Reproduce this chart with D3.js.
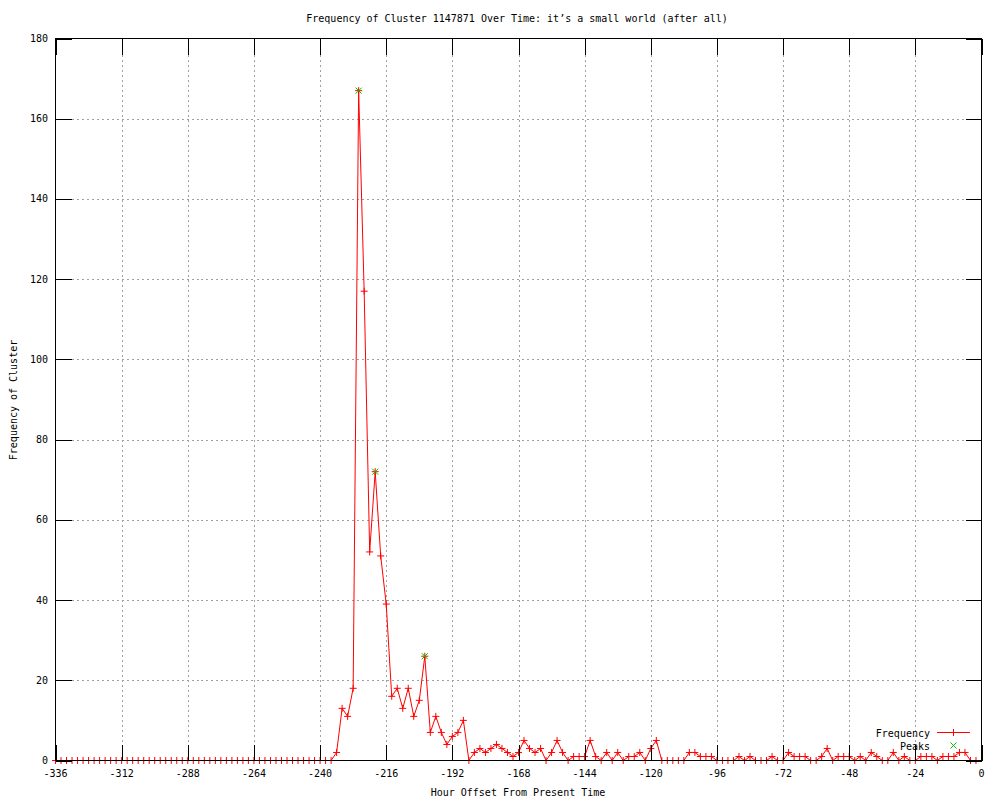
<!DOCTYPE html>
<html>
<head>
<meta charset="utf-8">
<script src="https://cdn.jsdelivr.net/npm/d3@7"></script>
<style>
  html, body { margin: 0; padding: 0; background: #fff; }
  svg { display: block; }
  text { font-family: "DejaVu Sans Mono", "Liberation Mono", monospace; font-size: 10px; fill: #000; }
</style>
</head>
<body>
<svg id="chart" width="1000" height="800"></svg>
<script>
// ---- data ----
const startHour = -336, stepHours = 2;
const frequency = [
  0,0,0,0,0,0,0,0,0,0, 0,0,0,0,0,0,0,0,0,0,
  0,0,0,0,0,0,0,0,0,0, 0,0,0,0,0,0,0,0,0,0,
  0,0,0,0,0,0,0,0,0,0, 0,
  2,13,11,18,167,117,52,72,51,39,16,18,13,18,11,15,26,7,11,7,4,6,7,10,
  0,2,3,2,3,4,3,2,1,2,5,3,2,3,0,2,5,2,0,1,1,1,5,1,0,2,0,2,0,1,1,2,0,3,5,
  0,0,0,0,0,2,2,1,1,1,0,0,0,0,1,0,1,0,0,0,1,0,0,2,1,1,1,0,0,1,3,0,1,1,1,0,1,0,2,1,0,0,2,0,1,0,0,1,1,1,0,1,1,1,2,2,0,0
];
const hours = frequency.map((_, i) => startHour + i * stepHours);
const peakHours = [-226, -220, -202];
const peakValues = [167, 72, 26];
const xTicks = [-336,-312,-288,-264,-240,-216,-192,-168,-144,-120,-96,-72,-48,-24,0];
const yTicks = [0,20,40,60,80,100,120,140,160,180];

const titleText = "Frequency of Cluster 1147871 Over Time: it\u2019s a small world (after all)";
const xLabel = "Hour Offset From Present Time";
const yLabel = "Frequency of Cluster";
const legendNames = ["Frequency", "Peaks"];

// ---- layout ----
const L = 55.5, R = 981.5, T = 38.5, B = 760.5;
const RED = "#ff0000", GREEN = "#00c000", GRID = "#a0a0a0";
const svg = d3.select("#chart");
const x = d3.scaleLinear().domain([-336, 0]).range([L, R]);
const y = d3.scaleLinear().domain([0, 180]).range([B, T]);

// grid
const g = svg.append("g").attr("shape-rendering", "crispEdges");
g.selectAll(".vg").data(xTicks.filter(d => d > -336 && d < 0)).enter().append("line")
  .attr("x1", d => Math.round(x(d)) + 0.5).attr("x2", d => Math.round(x(d)) + 0.5)
  .attr("y1", T + 16).attr("y2", B - 16)
  .attr("stroke", GRID).attr("stroke-dasharray", "2,3");
g.selectAll(".hg").data(yTicks.filter(d => d > 0 && d < 180)).enter().append("line")
  .attr("y1", d => Math.round(y(d)) + 0.5).attr("y2", d => Math.round(y(d)) + 0.5)
  .attr("x1", L + 16).attr("x2", R - 16)
  .attr("stroke", GRID).attr("stroke-dasharray", "2,3");

// data line
const line = d3.line().x((d, i) => x(hours[i])).y(d => y(d));
svg.append("path").datum(frequency).attr("d", line)
  .attr("fill", "none").attr("stroke", RED).attr("stroke-width", 1);

// plus markers
const ms = 3.5;
svg.append("g").selectAll("path").data(frequency).enter().append("path")
  .attr("d", (d, i) => {
    const px = x(hours[i]), py = y(d);
    return `M${px - ms},${py}H${px + ms}M${px},${py - ms}V${py + ms}`;
  })
  .attr("stroke", RED).attr("stroke-width", 1).attr("fill", "none");

// peak x markers
const xs = 3;
svg.append("g").selectAll("path").data(peakValues).enter().append("path")
  .attr("d", (d, i) => {
    const px = x(peakHours[i]), py = y(d);
    return `M${px - xs},${py - xs}L${px + xs},${py + xs}M${px - xs},${py + xs}L${px + xs},${py - xs}`;
  })
  .attr("stroke", GREEN).attr("stroke-width", 1).attr("fill", "none");

// border and ticks
const ax = svg.append("g").attr("shape-rendering", "crispEdges").attr("stroke", "#000");
ax.append("rect").attr("x", L).attr("y", T).attr("width", R - L).attr("height", B - T)
  .attr("fill", "none");
xTicks.forEach(t => {
  const px = Math.round(x(t)) + 0.5;
  ax.append("line").attr("x1", px).attr("x2", px).attr("y1", B).attr("y2", B - 16);
  ax.append("line").attr("x1", px).attr("x2", px).attr("y1", T).attr("y2", T + 16);
});
yTicks.forEach(t => {
  const py = Math.round(y(t)) + 0.5;
  ax.append("line").attr("y1", py).attr("y2", py).attr("x1", L).attr("x2", L + 16);
  ax.append("line").attr("y1", py).attr("y2", py).attr("x1", R).attr("x2", R - 16);
});

// tick labels
svg.append("g").selectAll("text").data(xTicks).enter().append("text")
  .attr("x", d => x(d)).attr("y", 777).attr("text-anchor", "middle").text(d => String(d));
svg.append("g").selectAll("text").data(yTicks).enter().append("text")
  .attr("x", 48).attr("y", d => y(d) + 3.5).attr("text-anchor", "end").text(d => String(d));

// titles
svg.append("text").attr("x", 517).attr("y", 22).attr("text-anchor", "middle").text(titleText);
svg.append("text").attr("x", 518).attr("y", 796).attr("text-anchor", "middle").text(xLabel);
svg.append("text").attr("transform", "translate(17,400) rotate(-90)").attr("text-anchor", "middle").text(yLabel);

// legend
svg.append("text").attr("x", 930).attr("y", 736.5).attr("text-anchor", "end").text(legendNames[0]);
svg.append("text").attr("x", 930).attr("y", 749.5).attr("text-anchor", "end").text(legendNames[1]);
svg.append("line").attr("x1", 937).attr("x2", 970).attr("y1", 732.5).attr("y2", 732.5)
  .attr("stroke", RED).attr("shape-rendering", "crispEdges");
svg.append("path").attr("d", `M${953.5 - ms},732.5H${953.5 + ms}M953.5,${732.5 - ms}V${732.5 + ms}`)
  .attr("stroke", RED).attr("fill", "none");
svg.append("path").attr("d", `M${953.5 - xs},${745.5 - xs}L${953.5 + xs},${745.5 + xs}M${953.5 - xs},${745.5 + xs}L${953.5 + xs},${745.5 - xs}`)
  .attr("stroke", GREEN).attr("fill", "none");
</script>
</body>
</html>
